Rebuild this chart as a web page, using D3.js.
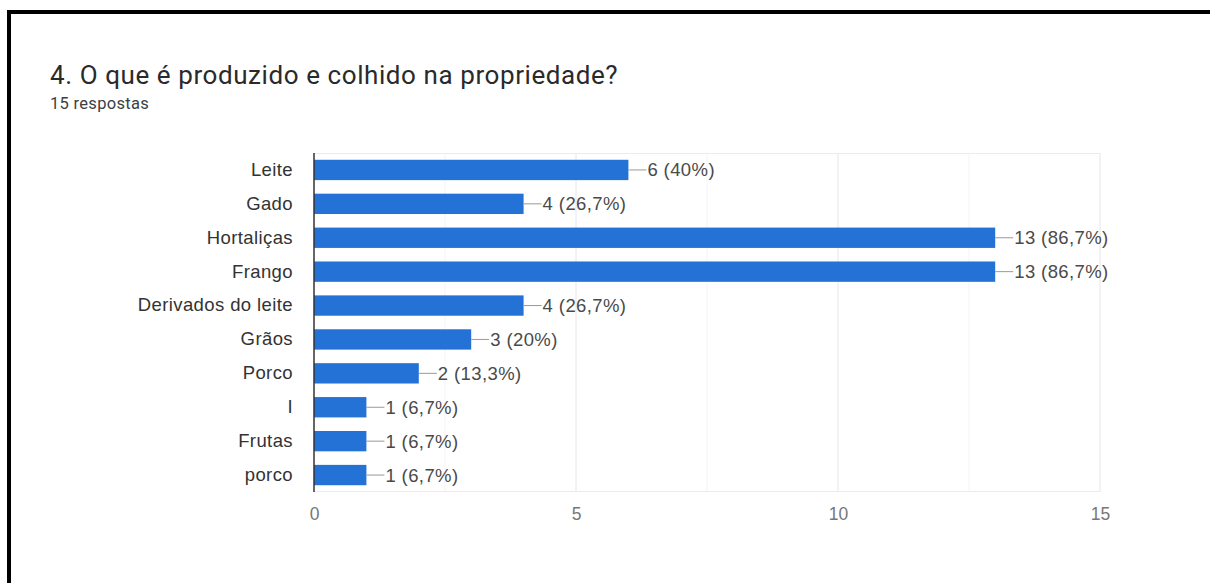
<!DOCTYPE html>
<html>
<head>
<meta charset="utf-8">
<script src="https://cdn.jsdelivr.net/npm/d3@7/dist/d3.min.js"></script>
<style>
  html, body { margin: 0; padding: 0; background: #fff; }
  svg { display: block; }
</style>
</head>
<body>
<svg id="chart" width="1210" height="583"></svg>
<script>
// Survey answers: what is produced and harvested on the property
const title = "4. O que é produzido e colhido na propriedade?";
const subtitle = "15 respostas";
const totalResponses = 15;
const categories = ["Leite", "Gado", "Hortaliças", "Frango", "Derivados do leite", "Grãos", "Porco", "I", "Frutas", "porco"];
const counts = [6, 4, 13, 13, 4, 3, 2, 1, 1, 1];
const majorTicks = [0, 5, 10, 15];
const minorTicks = [2.5, 7.5, 12.5];

const svg = d3.select("#chart");
const W = 1210, H = 583;
const margin = { left: 314, right: 110, top: 153, bottom: 91 };
const plotW = W - margin.left - margin.right;
const plotH = H - margin.top - margin.bottom;

// Page frame (top and left rules)
svg.append("rect").attr("x", 7).attr("y", 10).attr("width", W - 7).attr("height", 4).attr("fill", "#000");
svg.append("rect").attr("x", 7).attr("y", 10).attr("width", 4).attr("height", H - 10).attr("fill", "#000");

// Heading
svg.append("text")
  .attr("x", 50).attr("y", 84)
  .attr("font-family", "Roboto, 'Open Sans', sans-serif")
  .attr("font-size", 26).attr("letter-spacing", 0.58)
  .attr("fill", "#2a2a2a")
  .text(title);
svg.append("text")
  .attr("x", 50).attr("y", 109)
  .attr("font-family", "Roboto, sans-serif")
  .attr("font-size", 16.5).attr("letter-spacing", 0.3)
  .attr("fill", "#3c4043")
  .text(subtitle);

const x = d3.scaleLinear().domain([0, 15]).range([0, plotW]);
const y = d3.scaleBand().domain(categories).range([0, plotH]).paddingInner(0.4).paddingOuter(0.2);

const g = svg.append("g").attr("transform", `translate(${margin.left},${margin.top})`);

// Grid lines
g.selectAll("line.minor").data(minorTicks).join("line")
  .attr("x1", d => x(d)).attr("x2", d => x(d))
  .attr("y1", 0).attr("y2", plotH)
  .attr("stroke", "#f4f4f4").attr("stroke-width", 1);
g.selectAll("line.major").data(majorTicks.slice(1)).join("line")
  .attr("x1", d => x(d)).attr("x2", d => x(d))
  .attr("y1", 0).attr("y2", plotH)
  .attr("stroke", "#e6e6e6").attr("stroke-width", 1);
g.append("line").attr("x1", 0).attr("x2", plotW).attr("y1", 0.5).attr("y2", 0.5)
  .attr("stroke", "#ebebeb");
g.append("line").attr("x1", 0).attr("x2", plotW).attr("y1", plotH - 0.5).attr("y2", plotH - 0.5)
  .attr("stroke", "#ebebeb");

// Bars
const rows = categories.map((c, i) => ({ cat: c, v: counts[i] }));
g.selectAll("rect.bar").data(rows).join("rect")
  .attr("x", 0)
  .attr("y", d => y(d.cat))
  .attr("width", d => x(d.v))
  .attr("height", y.bandwidth())
  .attr("fill", "#2572d6");

// Value annotations with leader stubs
const pctFmt = v => {
  const p = Math.round(v / totalResponses * 1000) / 10;
  return (Number.isInteger(p) ? String(p) : p.toFixed(1).replace(".", ",")) + "%";
};
g.selectAll("line.stub").data(rows).join("line")
  .attr("x1", d => x(d.v)).attr("x2", d => x(d.v) + 18)
  .attr("y1", d => y(d.cat) + y.bandwidth() / 2)
  .attr("y2", d => y(d.cat) + y.bandwidth() / 2)
  .attr("stroke", "#999").attr("stroke-width", 1);
g.selectAll("text.val").data(rows).join("text")
  .attr("x", d => x(d.v) + 19)
  .attr("y", d => y(d.cat) + y.bandwidth() / 2)
  .attr("dy", "0.35em")
  .attr("font-family", "Arial, 'Liberation Sans', sans-serif")
  .attr("font-size", 18.5).attr("letter-spacing", 0.4)
  .attr("fill", "#4a4a4a")
  .text(d => `${d.v} (${pctFmt(d.v)})`);

// Category axis
const yAxis = g.append("g").call(d3.axisLeft(y).tickSize(0).tickPadding(21));
yAxis.select(".domain").remove();
yAxis.selectAll("text")
  .attr("font-family", "Arial, 'Liberation Sans', sans-serif")
  .attr("font-size", 18.5).attr("letter-spacing", 0.4)
  .attr("fill", "#333");
g.append("line").attr("x1", 0).attr("x2", 0).attr("y1", 0).attr("y2", plotH)
  .attr("stroke", "#333").attr("stroke-width", 1.5);

// Value axis
const xAxis = g.append("g").attr("transform", `translate(0,${plotH})`)
  .call(d3.axisBottom(x).tickValues(majorTicks).tickSize(0).tickPadding(16).tickFormat(d3.format("d")));
xAxis.select(".domain").remove();
xAxis.selectAll("text")
  .attr("font-family", "Arial, 'Liberation Sans', sans-serif")
  .attr("font-size", 17.5)
  .attr("fill", "#777");
</script>
</body>
</html>
